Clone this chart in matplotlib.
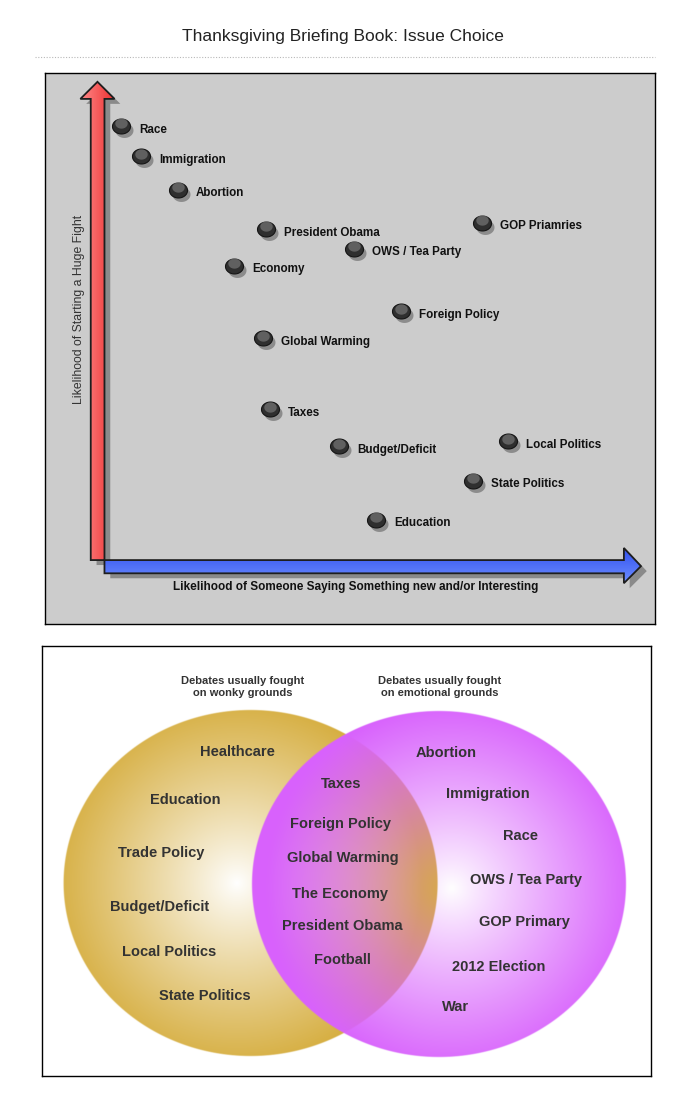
import numpy as np
import matplotlib
matplotlib.use("Agg")
import matplotlib.pyplot as plt
from matplotlib.patches import Polygon
from matplotlib.path import Path
from matplotlib.colors import LinearSegmentedColormap
from matplotlib.lines import Line2D
import matplotlib.transforms as mtransforms

plt.rcParams['font.family'] = ['Liberation Sans', 'DejaVu Sans']

# ------------------------- Data -------------------------
title = "Thanksgiving Briefing Book: Issue Choice"

# scatter: x = likelihood of something new/interesting, y = likelihood of a huge fight (0-100)
issues = ["Race", "Immigration", "Abortion", "President Obama", "GOP Priamries",
          "OWS / Tea Party", "Economy", "Foreign Policy", "Global Warming", "Taxes",
          "Budget/Deficit", "Local Politics", "State Politics", "Education"]
new_interesting = [12.5, 15.7, 21.8, 36.2, 71.6, 50.7, 31.0, 58.4, 35.7, 36.9, 48.2, 75.9, 70.2, 54.3]
huge_fight = [90.4, 84.9, 78.8, 71.7, 72.8, 68.1, 65.0, 56.8, 51.9, 39.0, 32.3, 33.2, 26.0, 18.9]
xlabel = "Likelihood of Someone Saying Something new and/or Interesting"
ylabel = "Likelihood of Starting a Huge Fight"

# venn diagram groups
wonky_only = ["Healthcare", "Education", "Trade Policy", "Budget/Deficit", "Local Politics", "State Politics"]
both = ["Taxes", "Foreign Policy", "Global Warming", "The Economy", "President Obama", "Football"]
emotional_only = ["Abortion", "Immigration", "Race", "OWS / Tea Party", "GOP Primary", "2012 Election", "War"]
wonky_header = "Debates usually fought\non wonky grounds"
emotional_header = "Debates usually fought\non emotional grounds"

# ------------------------- Layout -------------------------
W, H = 696, 1096
fig = plt.figure(figsize=(W / 100, H / 100), dpi=100)
fig.patch.set_facecolor('white')

fig.text(343 / W, 1 - 37 / H, title, ha='center', va='center', fontsize=12.5, color='#222222')
fig.add_artist(Line2D([35 / W, 655 / W], [1 - 57 / H, 1 - 57 / H], transform=fig.transFigure,
                      color='#b8b8b8', lw=0.8, ls=(0, (1, 1.5))))

# ------------------------- Scatter panel -------------------------
ax = fig.add_axes([45 / W, 1 - 624 / H, 610 / W, 551 / H])
ax.set_facecolor('#cccccc')
ax.set_xlim(0, 100)
ax.set_ylim(0, 100)
ax.set_xticks([])
ax.set_yticks([])
for s in ax.spines.values():
    s.set_color('black')
    s.set_linewidth(1.0)


def gradient_arrow(ax, verts, c1, c2, vertical_grad, shadow=(0.95, -0.9)):
    verts = np.array(verts)
    sh = Polygon(verts + np.array(shadow), closed=True, fc='#8a8a8a', ec='none', zorder=1)
    ax.add_patch(sh)
    outline = Polygon(verts, closed=True, fc='none', ec='#1e1e1e', lw=1.3, zorder=3)
    ax.add_patch(outline)
    grad = np.linspace(0, 1, 256)
    grad = grad.reshape(-1, 1) if vertical_grad else grad.reshape(1, -1)
    cmap = LinearSegmentedColormap.from_list('g', [c1, c2])
    x0, y0 = verts.min(axis=0)
    x1, y1 = verts.max(axis=0)
    im = ax.imshow(grad, extent=(x0, x1, y0, y1), origin='lower', cmap=cmap,
                   aspect='auto', interpolation='bilinear', zorder=2)
    im.set_clip_path(outline)


# red (vertical) arrow
red = [(7.5, 11.6), (9.75, 11.6), (9.75, 95.3), (11.4, 95.3), (8.6, 98.4),
       (5.8, 95.3), (7.5, 95.3)]
gradient_arrow(ax, red, '#ff8a8a', '#ee3030', False)
# blue (horizontal) arrow
blue = [(9.75, 11.6), (94.9, 11.6), (94.9, 13.8), (97.7, 10.5), (94.9, 7.4),
        (94.9, 9.2), (9.75, 9.2)]
gradient_arrow(ax, blue, '#6d8dff', '#3050ee', True)

ax.set_xlim(0, 100)
ax.set_ylim(0, 100)

ax.text(50.9, 6.7, xlabel, ha='center', va='center', fontsize=8.5, fontweight='bold', color='#111111')
ax.text(5.5, 57.0, ylabel, ha='center', va='center', rotation=90, fontsize=8.8, color='#333333')

# glossy bubbles
t = np.linspace(0, 2 * np.pi, 60)
ell = Path(np.column_stack([np.cos(t), 0.83 * np.sin(t)]))
shadow_tr = mtransforms.offset_copy(ax.transData, fig=fig, x=3, y=-4, units='dots')
hi_tr = mtransforms.offset_copy(ax.transData, fig=fig, x=0, y=2.5, units='dots')
ax.scatter(new_interesting, huge_fight, s=168, marker=ell, c='#8c8c8c', linewidths=0,
           transform=shadow_tr, zorder=4)
ax.scatter(new_interesting, huge_fight, s=168, marker=ell, c='#2f2f2f', edgecolors='#151515',
           linewidths=0.8, zorder=5)
ax.scatter(new_interesting, huge_fight, s=80, marker=ell, c='#8a8a8a', alpha=0.55, linewidths=0,
           transform=hi_tr, zorder=6)
for name, x, y in zip(issues, new_interesting, huge_fight):
    ax.annotate(name, (x, y), xytext=(13, -2.6), textcoords='offset points',
                ha='left', va='center', fontsize=8.4, fontweight='bold', color='#111111', zorder=7)

# ------------------------- Venn panel -------------------------
bw, bh = 609, 430
ax2 = fig.add_axes([42 / W, 1 - 1076 / H, bw / W, bh / H])
ax2.set_xlim(0, bw)
ax2.set_ylim(bh, 0)
ax2.set_xticks([])
ax2.set_yticks([])
for s in ax2.spines.values():
    s.set_color('black')
    s.set_linewidth(1.0)

yy, xx = np.mgrid[0:bh * 2, 0:bw * 2] / 2.0 + 0.25
img = np.ones((bh * 2, bw * 2, 3))


def shade(cx, cy, a, b, hx, hy, power):
    # coverage of the ellipse and an opacity that grows away from the highlight
    r = np.sqrt(((xx - cx) / a) ** 2 + ((yy - cy) / b) ** 2)
    cover = np.clip((1 - r) * a + 0.5, 0, 1)
    d = np.sqrt((xx - hx) ** 2 + (yy - hy) ** 2) / 185.0
    return (cover * np.clip(d, 0, 1) ** power)[..., None]


gold = np.array([214, 174, 64]) / 255.0
purple = np.array([216, 98, 252]) / 255.0
aL = shade(208.6, 237, 187, 173, 195, 237, 0.9)
img = img * (1 - aL) + gold * aL
aR = shade(397, 238, 187, 173, 410, 242, 0.9)
img = img * (1 - aR) + purple * aR
ax2.imshow(img, extent=(0, bw, bh, 0), aspect='auto', interpolation='bilinear', zorder=1)

ax2.text(200.5, 41, wonky_header, ha='center', va='center', fontsize=8, fontweight='bold',
         color='#333333', linespacing=1.25, zorder=3)
ax2.text(397.5, 41, emotional_header, ha='center', va='center', fontsize=8, fontweight='bold',
         color='#333333', linespacing=1.25, zorder=3)

wonky_pos = [(195, 106), (143, 154), (119, 207), (118, 261), (127, 306), (163, 350)]
both_pos = [(299, 138), (299, 178), (301, 212), (298, 248), (300, 280), (300, 314)]
emotional_pos = [(404, 107), (445.5, 148), (479, 190), (484, 234), (482, 276), (457, 321), (414, 361)]
for names, pos in [(wonky_only, wonky_pos), (both, both_pos), (emotional_only, emotional_pos)]:
    for name, (x, y) in zip(names, pos):
        ax2.text(x, y, name, ha='center', va='center', fontsize=10.5, fontweight='bold',
                 color='#333333', zorder=3)

fig.savefig('out.png', dpi=100, facecolor='white')
